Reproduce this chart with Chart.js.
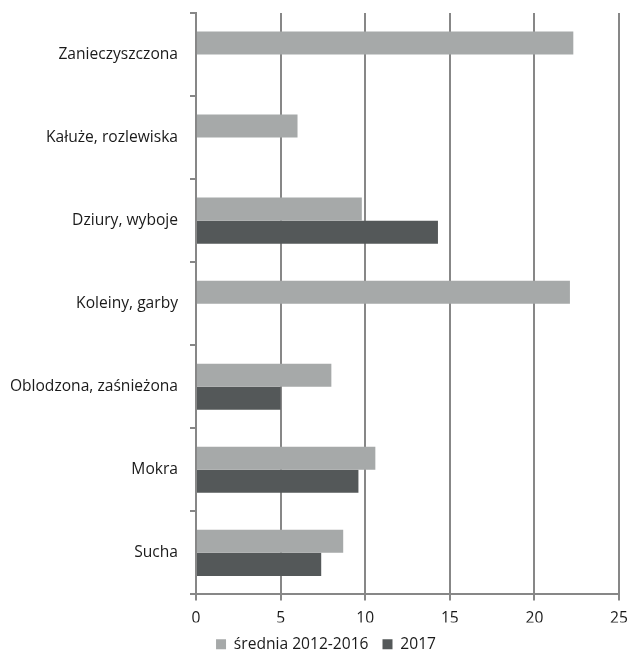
<!DOCTYPE html>
<html>
<head>
<meta charset="utf-8">
<script src="https://cdn.jsdelivr.net/npm/chart.js@4"></script>
<style>
    html, body { margin: 0; padding: 0; background: #fff; }
    #wrap { width: 629px; height: 662px; position: relative; }
</style>
</head>
<body>
<div id="wrap"><canvas id="roadChart"></canvas></div>
<script>
// Stan nawierzchni - categories top to bottom
const categories = [
    'Zanieczyszczona',
    'Kałuże, rozlewiska',
    'Dziury, wyboje',
    'Koleiny, garby',
    'Oblodzona, zaśnieżona',
    'Mokra',
    'Sucha'
];
const avg20122016 = [22.3, 6.0, 9.8, 22.1, 8.0, 10.6, 8.7];
const year2017 = [null, null, 14.3, null, 5.0, 9.6, 7.4];
const xTicks = [0, 5, 10, 15, 20, 25];

const LIGHT = '#a6a9a9';
const DARK = '#545859';
const AXIS = '#878787';
const FONT = "'Open Sans', sans-serif";
const FONT_SIZE = 15.6;

Chart.defaults.font.family = FONT;
Chart.defaults.color = '#1a1a1a';

// nudge the legend box so it sits centred like the original
const legendShift = {
    id: 'legendShift',
    afterLayout(chart) {
        if (chart.legend) {
            chart.legend.left += 33;
            chart.legend.width = chart.legend.right - chart.legend.left;
        }
    }
};

new Chart(document.getElementById('roadChart'), {
    type: 'bar',
    data: {
        labels: categories,
        datasets: [
            {
                label: 'średnia 2012-2016',
                data: avg20122016,
                backgroundColor: LIGHT,
                categoryPercentage: 0.555,
                barPercentage: 1.0
            },
            {
                label: '2017',
                data: year2017,
                backgroundColor: DARK,
                categoryPercentage: 0.555,
                barPercentage: 1.0
            }
        ]
    },
    plugins: [legendShift],
    options: {
        indexAxis: 'y',
        responsive: true,
        maintainAspectRatio: false,
        animation: false,
        layout: {
            padding: { top: 13, right: 10, left: 0, bottom: 0 }
        },
        plugins: {
            legend: {
                position: 'bottom',
                labels: {
                    boxWidth: 10,
                    boxHeight: 10,
                    padding: 14,
                    font: { size: FONT_SIZE },
                    color: '#1a1a1a'
                }
            },
            tooltip: { enabled: false }
        },
        scales: {
            x: {
                min: 0,
                max: 25,
                afterBuildTicks: function (scale) {
                    scale.ticks = xTicks.map(v => ({ value: v }));
                },
                afterFit: function (scale) {
                    scale.height = 28;
                    scale.paddingLeft = 0;
                    scale.paddingRight = 0;
                },
                border: { color: AXIS, width: 2 },
                grid: {
                    color: AXIS,
                    lineWidth: 2,
                    tickLength: 6,
                    tickColor: AXIS
                },
                ticks: {
                    font: { size: FONT_SIZE },
                    color: '#1a1a1a',
                    padding: 9
                }
            },
            y: {
                afterFit: function (scale) {
                    scale.width = 196;
                    // no extra room for the first/last label overflow
                    scale.paddingTop = 0;
                    scale.paddingBottom = 0;
                },
                border: { color: AXIS, width: 2 },
                grid: {
                    offset: true,
                    drawOnChartArea: false,
                    tickLength: 6,
                    tickColor: AXIS,
                    lineWidth: 2
                },
                ticks: {
                    font: { size: FONT_SIZE },
                    color: '#1a1a1a',
                    padding: 12
                }
            }
        }
    }
});
</script>
</body>
</html>
